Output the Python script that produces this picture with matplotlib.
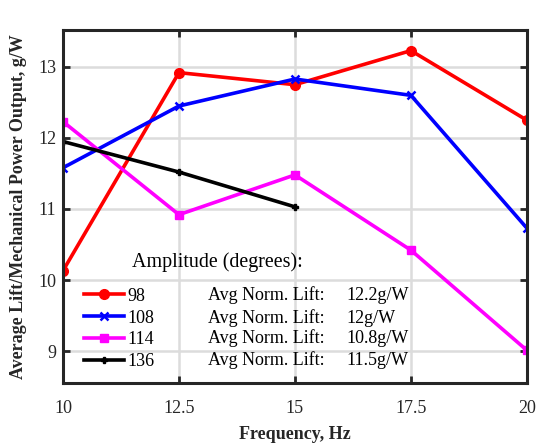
import matplotlib
matplotlib.use("Agg")
import matplotlib.pyplot as plt

plt.rcParams['font.family'] = ['Liberation Serif', 'DejaVu Serif']

# lift per mechanical power, g/W, vs flapping frequency
freq = [10, 12.5, 15, 17.5, 20]
lift_98 = [10.13, 12.92, 12.75, 13.23, 12.25]
lift_108 = [11.58, 12.45, 12.83, 12.60, 10.73]
lift_114 = [12.23, 10.92, 11.48, 10.42, 9.01]
freq_136 = [10, 12.5, 15]
lift_136 = [11.95, 11.52, 11.03]

amplitudes = ['98', '108', '114', '136']
avg_lift = ['12.2g/W', '12g/W', '10.8g/W', '11.5g/W']

fig = plt.figure(figsize=(5.36, 4.46), dpi=100)
ax = fig.add_axes([0.1175, 0.1413, 0.8655, 0.7914])

lw = 2.6
ax.plot(freq, lift_98, color='#ff0000', lw=lw, marker='o', ms=7, label=amplitudes[0])
ax.plot(freq, lift_108, color='#0000ff', lw=lw, marker='x', ms=6, mew=1.8, label=amplitudes[1])
ax.plot(freq, lift_114, color='#ff00ff', lw=lw, marker='s', ms=5.5, label=amplitudes[2])
ax.plot(freq_136, lift_136, color='#000000', lw=lw, marker='P', ms=5, label=amplitudes[3])

ax.set_xlim(10, 20)
ax.set_ylim(8.55, 13.52)
ax.set_xticks(freq)
ax.set_xticklabels(['10', '12.5', '15', '17.5', '20'])
ax.set_yticks([9, 10, 11, 12, 13])
ax.grid(True, color='#dcdcdc', lw=1.8)
ax.set_axisbelow(True)
ax.tick_params(direction='in', length=5, width=2, top=True, right=True,
               labelsize=13, colors='#262626')
ax.tick_params(axis='x', pad=12)
ax.tick_params(axis='y', pad=5)
for s in ax.spines.values():
    s.set_linewidth(2.2)
    s.set_color('#262626')

ax.set_xlabel('Frequency, Hz', fontsize=13, fontweight='bold', color='#262626', labelpad=7)
ax.set_ylabel('Average Lift/Mechanical Power Output, g/W', fontsize=13,
              fontweight='bold', color='#262626', labelpad=8)

leg = ax.legend(loc='upper left', bbox_to_anchor=(0.045, 0.27), frameon=False,
                fontsize=13, handlelength=2.2, handletextpad=0.2,
                labelspacing=0.27, borderpad=0, borderaxespad=0)

ax.text(0.149, 0.343, 'Amplitude (degrees):', transform=ax.transAxes,
        fontsize=14.4, va='center', ha='left')
rows_y = [0.249, 0.184, 0.127, 0.065]
for y, v in zip(rows_y, avg_lift):
    ax.text(0.3125, y, 'Avg Norm. Lift:', transform=ax.transAxes,
            fontsize=13, va='center', ha='left')
    ax.text(0.61, y, v, transform=ax.transAxes, fontsize=13, va='center', ha='left')

fig.savefig('out.png', dpi=100)
